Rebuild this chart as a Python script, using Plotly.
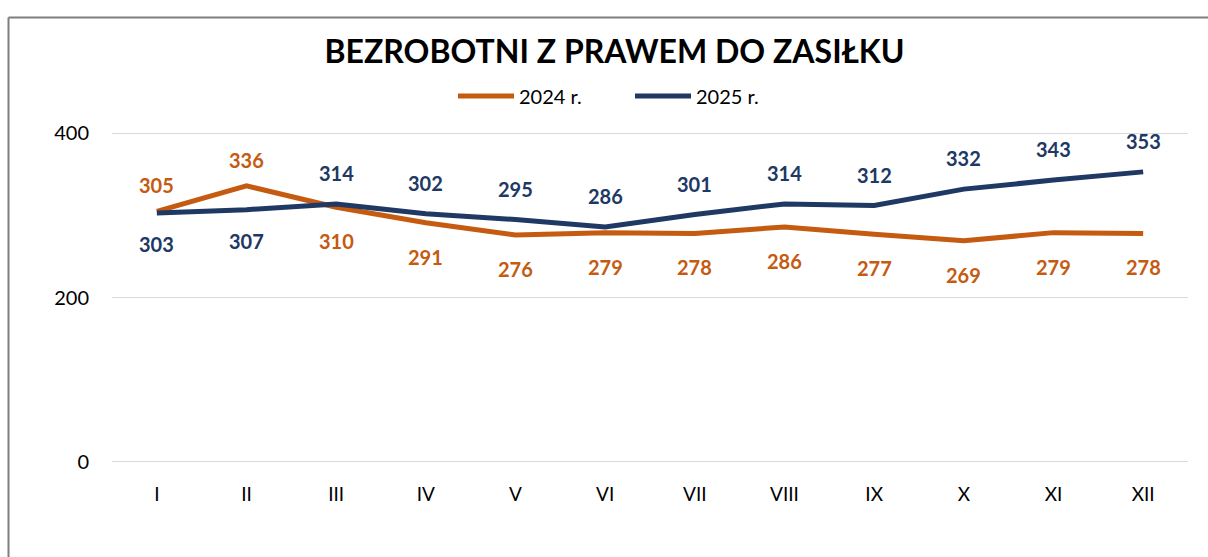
import plotly.graph_objects as go

months = ["I", "II", "III", "IV", "V", "VI", "VII", "VIII", "IX", "X", "XI", "XII"]
y2024 = [305, 336, 310, 291, 276, 279, 278, 286, 277, 269, 279, 278]
y2025 = [303, 307, 314, 302, 295, 286, 301, 314, 312, 332, 343, 353]
pos2024 = ["top", "top", "bottom", "bottom", "bottom", "bottom", "bottom", "bottom", "bottom", "bottom", "bottom", "bottom"]
pos2025 = ["bottom", "bottom", "top", "top", "top", "top", "top", "top", "top", "top", "top", "top"]
yticks = [0, 200, 400]

ORANGE = "#C55A11"
BLUE = "#203864"
FONT = "Lato"

W, H = 1208, 557
# plot area in pixels: y=400 at 133, y=0 at 462; x from 112 to 1188
PAD = 4  # value units of padding so the 0 and 400 gridlines are drawn
scale = (462 - 133) / 400.0
L, R = 112, 20
T = 133 - PAD * scale
B = (H - 462) - PAD * scale

fig = go.Figure()
fig.add_trace(go.Scatter(x=months, y=y2024, mode="lines", name="2024 r.",
                         line=dict(color=ORANGE, width=5)))
fig.add_trace(go.Scatter(x=months, y=y2025, mode="lines", name="2025 r.",
                         line=dict(color=BLUE, width=5)))

annotations = []
shifts = {ORANGE: (26, -34), BLUE: (31, -31)}
for series, pos, col in ((y2024, pos2024, ORANGE), (y2025, pos2025, BLUE)):
    up, down = shifts[col]
    for m, v, p in zip(months, series, pos):
        annotations.append(dict(x=m, y=v, xref="x", yref="y", text=str(v), showarrow=False,
                                yshift=up if p == "top" else down,
                                font=dict(family=FONT, size=20, color=col, weight="bold")))

pw = W - L - R
ph = H - T - B
def px_x(px):
    return (px - L) / pw
def px_y(py):
    return (H - B - py) / ph

shapes = [
    dict(type="line", xref="paper", yref="paper", x0=px_x(8.5), x1=px_x(8.5), y0=px_y(17), y1=px_y(H + 5),
         line=dict(color="#7f7f7f", width=2)),
    dict(type="line", xref="paper", yref="paper", x0=px_x(8.5), x1=px_x(W + 5), y0=px_y(17), y1=px_y(17),
         line=dict(color="#7f7f7f", width=2)),
]

fig.update_layout(
    width=W, height=H,
    margin=dict(l=L, r=R, t=T, b=B, pad=0, autoexpand=False),
    paper_bgcolor="white", plot_bgcolor="white",
    font=dict(family=FONT, color="#000000"),
    title=dict(text="BEZROBOTNI Z PRAWEM DO ZASIŁKU", x=614.5 / W, xref="container", xanchor="center",
               y=1 - 52 / H, yref="container", yanchor="middle",
               font=dict(family=FONT, size=32, color="#000000", weight="bold")),
    legend=dict(orientation="h", x=630 / W, xref="container", xanchor="center",
                y=1 - 96 / H, yref="container", yanchor="middle",
                font=dict(family=FONT, size=20, color="#000000"), itemwidth=56,
                entrywidth=106),
    xaxis=dict(type="category", range=[-0.5, 11.5], showgrid=False, showline=False, ticks="",
               tickfont=dict(family=FONT, size=19, color="#000000"), ticklabelstandoff=16,
               zeroline=False, fixedrange=True),
    yaxis=dict(range=[-PAD, 400 + PAD], tickvals=yticks, showgrid=True, gridcolor="#D9D9D9", gridwidth=1.3,
               zeroline=False, showline=False, ticks="", ticklabelstandoff=22,
               tickfont=dict(family=FONT, size=20, color="#000000"), fixedrange=True),
    annotations=annotations,
    shapes=shapes,
)

fig.write_html("out.html", config={"displayModeBar": False},
               post_script="document.body.style.margin='0';document.body.style.padding='0';")
